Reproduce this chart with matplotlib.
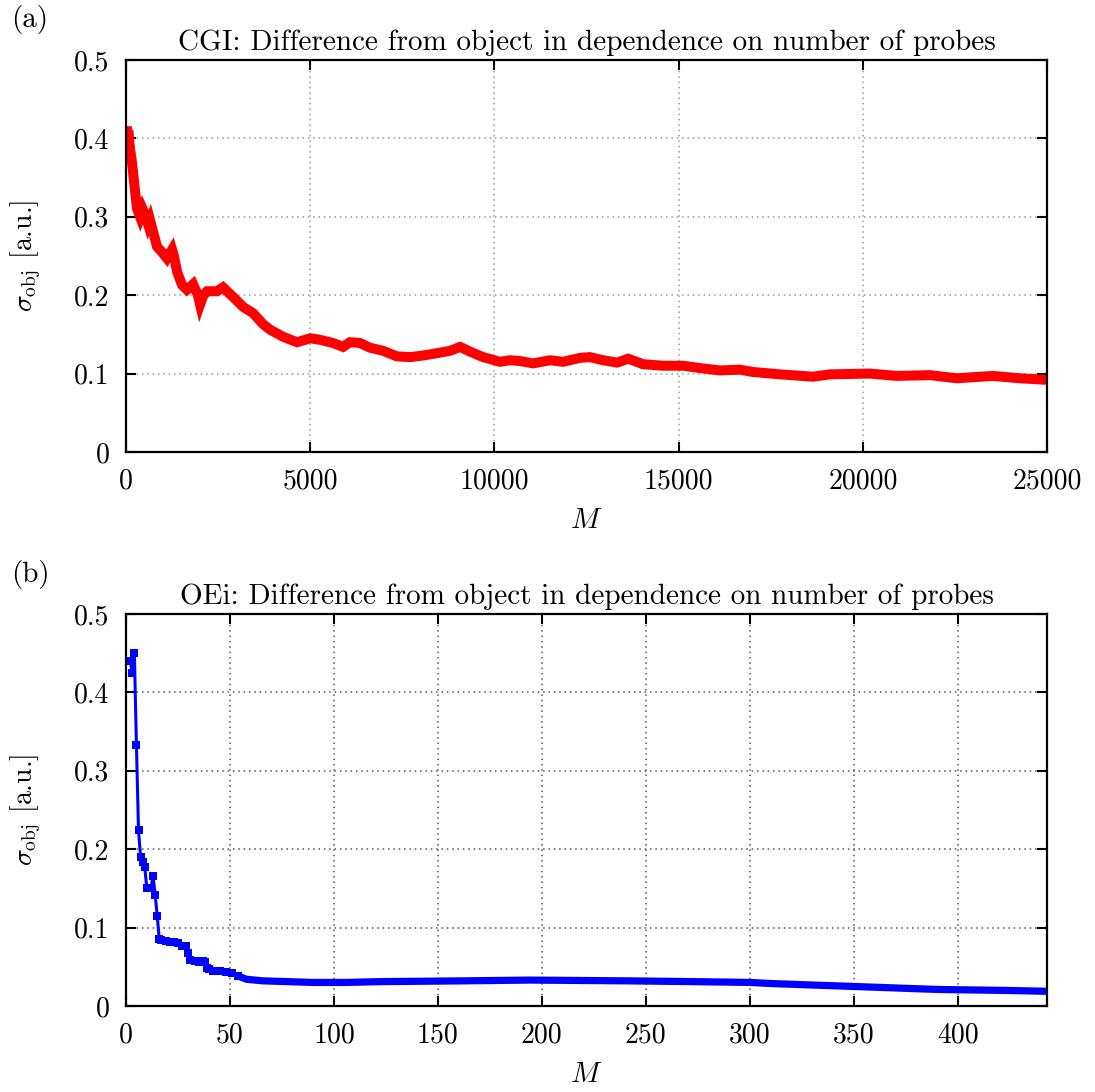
import numpy as np
import matplotlib
matplotlib.use('Agg')
from matplotlib import pyplot as plt


## values read from the two runs
cgi_M = [0, 20, 40, 60, 100, 160, 240, 300, 380, 450, 515, 600, 650, 740, 840,
         975, 1110, 1250, 1300, 1385, 1520, 1655, 1820, 1950, 2010, 2100, 2200,
         2470, 2630, 2900, 3180, 3450, 3720, 3910, 4260, 4640, 5000, 5270, 5620,
         5890, 6080, 6350, 6620, 6980, 7350, 7710, 8060, 8440, 8790, 9070, 9340,
         9690, 10150, 10420, 10690, 11050, 11510, 11860, 12320, 12590, 12950,
         13330, 13630, 14030, 14570, 15120, 15580, 16120, 16660, 17020, 17750,
         18650, 19110, 20190, 20920, 21820, 22550, 23530, 24260, 25000]
cgi_sigma = [0.39, 0.415, 0.38, 0.41, 0.39, 0.37, 0.335, 0.31, 0.30, 0.31,
             0.303, 0.29, 0.296, 0.28, 0.262, 0.255, 0.247, 0.258, 0.25, 0.23,
             0.213, 0.207, 0.214, 0.20, 0.188, 0.2, 0.205, 0.205, 0.21, 0.198,
             0.185, 0.177, 0.163, 0.156, 0.147, 0.14, 0.145, 0.143, 0.139, 0.134,
             0.14, 0.139, 0.133, 0.129, 0.122, 0.121, 0.123, 0.126, 0.129, 0.134,
             0.128, 0.121, 0.115, 0.117, 0.116, 0.113, 0.117, 0.115, 0.12, 0.121,
             0.117, 0.114, 0.119, 0.112, 0.11, 0.11, 0.107, 0.104, 0.105, 0.102,
             0.099, 0.096, 0.099, 0.1, 0.097, 0.098, 0.094, 0.097, 0.094, 0.092]

oei_M = [1, 2, 3, 4, 5, 6, 7, 8, 9, 10, 11, 12, 13, 14, 15, 16, 17, 19, 21, 23,
         25, 27, 29, 30, 31, 33, 35, 37, 38, 39, 40, 42, 45, 48, 51, 54,
         58, 66, 90, 106, 122, 162, 194, 242, 273, 300, 311, 327, 343, 359,
         380, 391, 407, 423, 443]
oei_sigma = [0.44, 0.44, 0.425, 0.45, 0.333, 0.224, 0.19, 0.183, 0.177, 0.15,
             0.15, 0.15, 0.166, 0.142, 0.115, 0.085, 0.084, 0.083, 0.082, 0.081,
             0.08, 0.077, 0.076, 0.067, 0.058, 0.057, 0.056, 0.057, 0.056, 0.049,
             0.047, 0.044, 0.044, 0.043, 0.042, 0.038,
             0.034, 0.032, 0.030, 0.030, 0.031, 0.032, 0.033, 0.032, 0.031,
             0.030, 0.0285, 0.027, 0.0255, 0.024, 0.022, 0.021, 0.0204, 0.0198,
             0.0187]
n_sparse = 36  # points drawn with single markers, the rest is a dense band

y_ticks = [0, 0.1, 0.2, 0.3, 0.4, 0.5]
y_labels = ['0', '0.1', '0.2', '0.3', '0.4', '0.5']
cgi_xticks = [0, 5000, 10000, 15000, 20000, 25000]
oei_xticks = [0, 50, 100, 150, 200, 250, 300, 350, 400]

plt.rcParams['font.family'] = 'cmr10'
plt.rcParams['mathtext.fontset'] = 'cm'
plt.rcParams['axes.formatter.use_mathtext'] = True
fs = 20
fs_title = 21

fig = plt.figure(figsize=(10.95, 10.92), dpi=100)
ax1 = fig.add_axes([0.1151, 0.5861, 0.8411, 0.359])
ax2 = fig.add_axes([0.1151, 0.0788, 0.8411, 0.359])


def style(ax, xticks, title, grid_color):
    ax.set_ylim(0, 0.5)
    ax.set_yticks(y_ticks)
    ax.set_yticklabels(y_labels)
    ax.set_xticks(xticks)
    ax.set_xticklabels([str(t) for t in xticks])
    ax.tick_params(direction='in', top=True, right=True, length=7, width=1.5,
                   labelsize=fs, pad=12)
    for s in ax.spines.values():
        s.set_linewidth(1.6)
    ax.grid(True, color=grid_color, linestyle=(0, (1, 2.5)), linewidth=1.1)
    ax.set_axisbelow(True)
    ax.set_title(title, fontsize=fs_title, pad=7)
    ax.set_xlabel(r'$M$', fontsize=fs_title, labelpad=9)
    ax.set_ylabel(r'$\sigma_{\rm obj}$ [a.u.]', fontsize=fs, labelpad=22)


## (a) CGI
ax1.plot(cgi_M, cgi_sigma, color='#ff0000', lw=7.2, solid_capstyle='butt',
         solid_joinstyle='miter')
ax1.set_xlim(0, 25000)
style(ax1, cgi_xticks,
      'CGI: Difference from object in dependence on number of probes', '#999999')

## (b) OEi
ax2.plot(oei_M[:n_sparse], oei_sigma[:n_sparse], color='#0000ff', lw=2.2,
         marker='s', ms=6, mew=0)
ax2.plot(oei_M[n_sparse - 1:], oei_sigma[n_sparse - 1:], color='#0000ff',
         lw=5.2, solid_capstyle='butt')
ax2.set_xlim(0, 443)
style(ax2, oei_xticks,
      'OEi: Difference from object in dependence on number of probes', '#555555')

fig.text(0.010, 0.982, '(a)', fontsize=fs_title, va='center')
fig.text(0.010, 0.474, '(b)', fontsize=fs_title, va='center')

plt.savefig('out.png', dpi=100)
